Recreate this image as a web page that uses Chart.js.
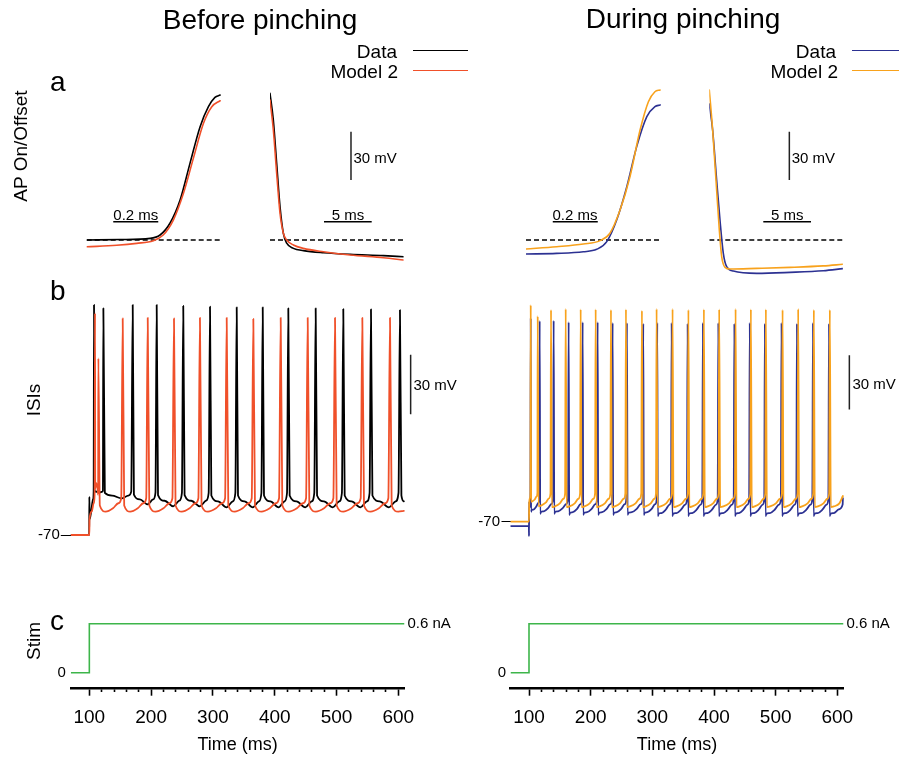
<!DOCTYPE html>
<html><head><meta charset="utf-8">
<script src="https://cdn.jsdelivr.net/npm/chart.js@4.4.1/dist/chart.umd.min.js"></script>
<style>
html,body{margin:0;padding:0;background:#fff;}
#wrap{position:relative;width:899px;height:759px;overflow:hidden;background:#fff;font-family:"Liberation Sans",Arial,Helvetica,sans-serif;color:#000;}
#wrap canvas{position:absolute;left:0;top:0;}
.t{position:absolute;line-height:1;white-space:nowrap;}
.ln{position:absolute;height:0;}
</style></head><body><div id="wrap"></div>
<script>
// ---------------- DATA ----------------
// Panel a: AP onset (ms, mV) and offset (ms, mV)
const aOnT_L_data  = [0, 0.15, 0.282, 0.326, 0.37, 0.415, 0.459, 0.504, 0.541, 0.57, 0.593];
const aOnV_L_data  = [-50, -49.7, -49, -46.9, -39.6, -25.2, -2.4, 20.4, 32.8, 38.6, 40];
const aOnT_L_model = [0, 0.133, 0.222, 0.296, 0.34, 0.385, 0.43, 0.474, 0.519, 0.556, 0.593];
const aOnV_L_model = [-54.2, -53.3, -52.1, -50.4, -46.9, -37.6, -21, 0.7, 22.5, 32.8, 36.5];
const aOffT_L      = [0, 0.35, 0.7, 1.05, 1.4, 1.75, 2.45, 3.5, 5.6, 8.4, 11.9, 14];
const aOffV_L_data = [41.1, 24.5, -2.4, -29.3, -45.8, -52, -55.2, -56.6, -57.9, -58.9, -59.7, -60.4];
const aOffV_L_model= [37, 18.3, -8.6, -33.4, -45.8, -50, -53.1, -55.2, -57.3, -59.3, -61, -62.4];

const aOnT_R_data  = [0, 0.136, 0.255, 0.314, 0.359, 0.403, 0.448, 0.492, 0.537, 0.573, 0.596];
const aOnV_R_data  = [-58.7, -58.3, -57.3, -55.8, -51, -37.6, -16.9, 8, 26.6, 32.8, 33.9];
const aOnT_R_model = [0, 0.136, 0.255, 0.329, 0.373, 0.418, 0.462, 0.507, 0.544, 0.573, 0.596];
const aOnV_R_model = [-55.6, -54.2, -52.5, -50.4, -45.8, -31.4, -10.7, 18.3, 35.9, 42.1, 43.2];
const aOffT_R_data = [0, 0.35, 0.77, 1.12, 1.47, 1.82, 2.52, 4.97, 8.46, 11.95, 14];
const aOffV_R_data = [34.5, 18.3, -12.7, -37.6, -58.3, -66.6, -69.3, -70.7, -70.1, -69.1, -67.8];
const aOffT_R_model= [0, 0.35, 0.7, 1.05, 1.3, 1.65, 2.17, 4.97, 8.46, 11.95, 14];
const aOffV_R_model= [43.2, 18.3, -12.7, -43.8, -60.4, -67, -68, -67.6, -67, -66.1, -65.1];
const aThreshold = -50;

// Panel b: spike trains (ms, mV)
const bPre_L_data  = [[70,-70],[99.8,-70],[100,-50.7],[100.6,-62],[103,-58],[106,-52],[107,-48]];
const bSpikeT_L_data = [107.6, 122.7, 170.2, 209, 252, 295.3, 338.5, 380.6, 422, 466.3, 511, 555.8, 602.7];
const bSpikeV_L_data = [46.2, 44.5, 46.2, 46.2, 45.7, 45.3, 45, 45, 44.5, 44.5, 44.1, 44, 43.6];
const bTrough_L_data = [-48.5, -51.5, -54.5, -55.5, -55.5, -56, -56, -56, -56, -56, -56, -56, -56];
const bPhase_L_data  = [0.05, 0.3, 0.62, 0.85, 0.95];
const bRel_L_data    = [0.3, 0.65, 1, 0.65, 0.15];
const bBase_L_data = -47.5, bEnd_L_data = -53;

const bPre_L_model = [[70,-70],[100,-70],[100.3,-62],[104,-58],[107,-54],[108.5,-50]];
const bSpikeT_L_model = [109.2, 114.6, 154, 194.5, 237, 279, 322.3, 365.4, 409.7, 453.4, 497.6, 541.8, 586.6];
const bSpikeV_L_model = [42, 19.2, 39.4, 39.7, 39.4, 39.7, 39.7, 39.1, 39.7, 39.7, 39.7, 39.7, 39.7];
const bTrough_L_model = [-43.7, -58.2, -58.2, -58.2, -58.2, -58.2, -58.2, -58.2, -58.2, -58.2, -58.2, -58.2, -58.2];
const bPhase_L_model  = [0.06, 0.3, 0.6, 0.82, 0.94];
const bRel_L_model    = [0.6, 1, 0.78, 0.45, 0.12];
const bBase_L_model = -50.5, bEnd_L_model = -57.8;

const bPre_R_data = [[70,-72.4],[99.8,-72.4],[100,-78],[100.2,-59],[101,-62],[102.3,-57]];
const bSpikeT_R_data = [102.8, 117.3, 140, 164.3, 187, 211.3, 235.6, 258.8, 285.3, 308, 331.3, 357.2, 382, 407, 433, 458, 482.5, 509.5, 534.5, 560.5, 586.5];
const bSpikeV_R_data = [42.4, 40.9, 41.1, 40.3, 40.3, 40.3, 39.8, 39.8, 39.4, 39.8, 39.8, 39.4, 39.8, 39.8, 39.4, 39.8, 39.4, 39.8, 39.4, 39.8, 39.4];
const bTrough_R_data = [-63.5, -64.5, -64.5, -65, -65, -65, -65, -65, -65, -65.5, -65.5, -65.5, -65.5, -65.5, -65.5, -65.5, -65.5, -65.5, -65.5, -65.5, -65.5];
const bPhase_R_data  = [0.04, 0.1, 0.3, 0.6, 0.85, 0.96];
const bRel_R_data    = [1.15, 1, 0.97, 0.75, 0.45, 0.1];
const bBase_R_data = -56.5, bEnd_R_data = -57;

const bPre_R_model = [[70,-70],[100,-70],[100.3,-60],[101.5,-57],[102.3,-54]];
const bSpikeT_R_model = [102.8, 114.1, 135.7, 159.5, 183.8, 208.1, 232.9, 257.2, 283.1, 306.9, 332.8, 358.5, 383.6, 408.4, 435, 459.8, 484.1, 511.2, 536.5, 561.9, 587.8];
const bSpikeV_R_model = [49.7, 43.6, 47.0, 47.5, 47.3, 47.3, 47.0, 47.3, 46.6, 47.5, 47.5, 47.0, 47.3, 47.3, 47.5, 47.3, 47.3, 47.0, 47.5, 47.0, 47.0];
const bTrough_R_model = [-59, -61.5, -62, -62, -62, -62, -62, -62, -62, -62, -62, -62, -62, -62, -62, -62, -62, -62, -62, -62, -62];
const bPhase_R_model  = [0.06, 0.25, 0.6, 0.85, 0.96];
const bRel_R_model    = [1, 0.95, 0.75, 0.45, 0.1];
const bBase_R_model = -53.5, bEnd_R_model = -55.8;

const bEndT = 609;
const bTickV = [-70];

// Panel c: stimulus (ms, nA)
const stimT = [70, 100, 100, 610];
const stimA = [0, 0, 0.6, 0.6];
const stimTicks = [0.6];
const timeTicks = [100,120,140,160,180,200,220,240,260,280,300,320,340,360,380,400,420,440,460,480,500,520,540,560,580,600];
const timeMajor = [100,200,300,400,500,600];

// scale bars
const barOn = 0.2, barOff = 5, barMV = 30;

// ---------------- STYLE ----------------
const FONT = '"Liberation Sans", Arial, Helvetica, sans-serif';
const C_BLACK = '#000000', C_RED = '#F0502A', C_BLUE = '#2C3192', C_ORANGE = '#F8A21C', C_GREEN = '#3DB54A', C_BAR = '#222222';
Chart.defaults.font.family = FONT;
Chart.defaults.color = '#000';
const W = 899, H = 759;
const wrap = document.getElementById('wrap');

function zip(T, V) { return T.map((t, i) => ({x: t, y: V[i]})); }
function trace(pts, color, w) {
  return {data: pts, borderColor: color, borderWidth: w, pointRadius: 0, fill: false,
    cubicInterpolationMode: 'monotone', borderJoinStyle: 'round', borderCapStyle: 'round'};
}
function seg(x0, y0, x1, y1, color, w, dash) {
  return {data: [{x: x0, y: y0}, {x: x1, y: y1}], borderColor: color, borderWidth: w,
    pointRadius: 0, tension: 0, fill: false, borderDash: dash || []};
}
function spikeTrain(pre, spikeT, spikeV, troughs, base, phases, rel, endT, endV) {
  const pts = pre.map(p => ({x: p[0], y: p[1]}));
  for (let i = 0; i < spikeT.length; i++) {
    const t = spikeT[i];
    pts.push({x: t, y: spikeV[i]});
    const last = i === spikeT.length - 1;
    const isi = last ? t - spikeT[i - 1] : spikeT[i + 1] - t;
    const tr = troughs[i];
    for (let k = 0; k < phases.length; k++) {
      const tx = t + phases[k] * isi;
      if (last && tx >= endT - 0.3) break;
      pts.push({x: tx, y: base + (tr - base) * rel[k]});
    }
  }
  pts.push({x: endT, y: endV});
  return pts;
}
function chartAt(area, xr, yr, datasets, extra, aw) {
  const cv = document.createElement('canvas');
  cv.width = W; cv.height = H; cv.style.width = W + 'px'; cv.style.height = H + 'px';
  wrap.appendChild(cv);
  aw = Object.assign({left: 0, right: 0, bottom: 0}, aw || {});
  const scales = {
    x: {type: 'linear', display: false, min: xr[0], max: xr[1]},
    y: {type: 'linear', display: false, min: yr[0], max: yr[1]}
  };
  for (const k in (extra || {})) scales[k] = Object.assign({type: 'linear'}, scales[k] || {}, extra[k]);
  return new Chart(cv, {
    type: 'line', data: {datasets},
    options: {
      responsive: false, maintainAspectRatio: false, animation: false, devicePixelRatio: 1, events: [],
      layout: {padding: {left: area.L - aw.left, top: area.T, right: W - area.R - aw.right, bottom: H - area.B - aw.bottom}},
      plugins: {legend: {display: false}, tooltip: {enabled: false}, title: {display: false}},
      scales
    }
  });
}
function txt(s, x, yb, size, align, extra) {
  const d = document.createElement('div');
  d.className = 't'; d.textContent = s;
  d.style.fontSize = size + 'px';
  d.style.left = x + 'px';
  d.style.top = (yb - 0.8465 * size) + 'px';
  if (align === 'right') d.style.transform = 'translateX(-100%)';
  if (align === 'center') d.style.transform = 'translateX(-50%)';
  if (extra) Object.assign(d.style, extra);
  wrap.appendChild(d);
  return d;
}
function vtxt(s, cx, cy, size) {
  const d = document.createElement('div');
  d.className = 't'; d.textContent = s;
  d.style.fontSize = size + 'px';
  d.style.left = cx + 'px'; d.style.top = cy + 'px';
  d.style.transform = 'translate(-50%,-50%) rotate(-90deg)';
  wrap.appendChild(d);
}
function hline(x0, x1, y, color, w) {
  const d = document.createElement('div');
  d.className = 'ln';
  d.style.left = x0 + 'px'; d.style.width = (x1 - x0) + 'px';
  d.style.top = (y - w / 2) + 'px'; d.style.borderTop = w + 'px solid ' + color;
  wrap.appendChild(d);
}

// ---------------- PANEL a ----------------
const aY = [-80, 50];
const aArea = {T: 79, B: 288.3};
const barY = -38.6;
function aOnset(L, dataPts, modelPts, dataCol, modelCol, barX0) {
  chartAt({L: L, R: L + 135, T: aArea.T, B: aArea.B}, [0, 0.6], aY, [
    trace(modelPts, modelCol, 1.6),
    trace(dataPts, dataCol, 1.6),
    seg(barX0, barY, barX0 + barOn, barY, C_BLACK, 1.5),
    seg(0, aThreshold, 0.593, aThreshold, C_BLACK, 1.5, [5, 3])
  ]);
}
function aOffset(L, dataPts, modelPts, dataCol, modelCol, barX0, vbarX) {
  chartAt({L: L, R: L + 14 * 9.54, T: aArea.T, B: aArea.B}, [0, 14], aY, [
    trace(modelPts, modelCol, 1.6),
    trace(dataPts, dataCol, 1.6),
    seg(barX0, barY, barX0 + barOff, barY, C_BLACK, 1.5),
    seg(vbarX, -12.7, vbarX, -12.7 + barMV, C_BAR, 1.5),
    seg(0, aThreshold, 14, aThreshold, C_BLACK, 1.5, [5, 3])
  ]);
}
aOnset(86.7, zip(aOnT_L_data, aOnV_L_data), zip(aOnT_L_model, aOnV_L_model), C_BLACK, C_RED, 0.118);
aOffset(270, zip(aOffT_L, aOffV_L_data), zip(aOffT_L, aOffV_L_model), C_BLACK, C_RED, 5.66, 8.49);
aOnset(526, zip(aOnT_R_data, aOnV_R_data), zip(aOnT_R_model, aOnV_R_model), C_BLUE, C_ORANGE, 0.119);
aOffset(709.3, zip(aOffT_R_data, aOffV_R_data), zip(aOffT_R_model, aOffV_R_model), C_BLUE, C_ORANGE, 5.66, 8.39);

// ---------------- PANEL b ----------------
function bYAxis(tl, pad) {
  return {y: {display: true, position: 'left',
    afterBuildTicks: s => { s.ticks = bTickV.map(v => ({value: v})); },
    afterFit: s => { s.width = 40; },
    ticks: {font: {size: 15}, color: '#000', padding: pad, callback: v => String(v)},
    grid: {display: true, drawOnChartArea: false, drawTicks: true, tickLength: tl, tickColor: '#000', tickWidth: 1},
    border: {display: false}}};
}
const bL = spikeTrain(bPre_L_data, bSpikeT_L_data, bSpikeV_L_data, bTrough_L_data, bBase_L_data, bPhase_L_data, bRel_L_data, bEndT, bEnd_L_data);
const bLm = spikeTrain(bPre_L_model, bSpikeT_L_model, bSpikeV_L_model, bTrough_L_model, bBase_L_model, bPhase_L_model, bRel_L_model, bEndT, bEnd_L_model);
chartAt({L: 70.8, R: 423, T: 287.5, B: 564.7}, [70, 640], [-85, 55], [
  trace(bLm, C_RED, 1.8),
  trace(bL, C_BLACK, 1.8),
  seg(620, -9, 620, -9 + barMV, C_BAR, 1.5)
], bYAxis(10, 1), {left: 40});

const bR = spikeTrain(bPre_R_data, bSpikeT_R_data, bSpikeV_R_data, bTrough_R_data, bBase_R_data, bPhase_R_data, bRel_R_data, bEndT, bEnd_R_data);
const bRm = spikeTrain(bPre_R_model, bSpikeT_R_model, bSpikeV_R_model, bTrough_R_model, bBase_R_model, bPhase_R_model, bRel_R_model, bEndT, bEnd_R_model);
chartAt({L: 510.5, R: 862, T: 295.45, B: 548.85}, [70, 640], [-85, 55], [
  trace(bRm, C_ORANGE, 1.8),
  trace(bR, C_BLUE, 1.8),
  seg(619.5, -8, 619.5, -8 + barMV, C_BAR, 1.5)
], bYAxis(9, 1.5), {left: 40});

// ---------------- PANEL c ----------------
function cScales(leftPad, rightW) {
  return {
    x: {display: true, position: 'bottom',
      afterBuildTicks: s => { s.ticks = timeTicks.map(v => ({value: v})); },
      afterFit: s => { s.height = 70; },
      ticks: {autoSkip: false, maxRotation: 0, minRotation: 0, font: {size: 19}, color: '#000', padding: 10.5,
        callback: v => (timeMajor.includes(v) ? String(v) : '')},
      grid: {display: true, drawOnChartArea: false, drawTicks: true, tickLength: 7, tickWidth: 1.6, tickColor: '#000',
        tickBorderDash: c => (c.tick && timeMajor.includes(c.tick.value)) ? [] : [2.5, 30]},
      border: {display: true, color: '#000', width: 2.5},
      title: {display: true, text: 'Time (ms)', font: {size: 18}, color: '#000', padding: {top: 0, bottom: 3}}},
    y: {display: true, position: 'left',
      afterBuildTicks: s => { s.ticks = [{value: 0}]; },
      afterFit: s => { s.width = 30; },
      ticks: {font: {size: 15}, color: '#000', padding: leftPad, callback: v => String(v)},
      grid: {display: false, drawTicks: false}, border: {display: false}},
    y2: {display: true, position: 'right', min: -0.1959, max: 0.8,
      afterBuildTicks: s => { s.ticks = stimTicks.map(v => ({value: v})); },
      afterFit: s => { s.width = rightW; },
      ticks: {font: {size: 15}, color: '#000', padding: 3, callback: v => v + ' nA'},
      grid: {display: false, drawTicks: false}, border: {display: false}}
  };
}
chartAt({L: 70.8, R: 404.5, T: 607.36, B: 688.7}, [70, 610], [-0.1959, 0.8], [
  Object.assign(seg(0, 0, 0, 0, C_GREEN, 1.6), {data: zip(stimT, stimA)})
], cScales(5, 70), {left: 30, right: 70, bottom: 70});
chartAt({L: 510.5, R: 843.5, T: 607.36, B: 688.7}, [70, 610], [-0.1959, 0.8], [
  Object.assign(seg(0, 0, 0, 0, C_GREEN, 1.6), {data: zip(stimT, stimA)})
], cScales(4.5, 50), {left: 30, right: 50, bottom: 70});

// ---------------- TEXT ----------------
txt('Before pinching', 260, 30, 28, 'center');
txt('During pinching', 683, 29, 28, 'center');
txt('Data', 397, 58.3, 19, 'right');
txt('Model 2', 398, 78.3, 19, 'right');
hline(413, 468, 51, C_BLACK, 1.5);
hline(413, 468, 70.7, C_RED, 1.5);
txt('Data', 836, 58.3, 19, 'right');
txt('Model 2', 838, 78.3, 19, 'right');
hline(852, 899, 51, C_BLUE, 1.5);
hline(852, 899, 70.7, C_ORANGE, 1.5);

txt('a', 50, 92, 28, 'left');
txt('b', 50, 301, 28, 'left');
txt('c', 50, 631, 28, 'left');
vtxt('AP On/Offset', 20, 146, 19);
vtxt('ISIs', 33, 400, 19);
vtxt('Stim', 33, 641, 19);

txt('0.2 ms', 135.8, 219.3, 15, 'center');
txt('5 ms', 348, 219.3, 15, 'center');
txt('30 mV', 353.5, 162.7, 15, 'left');
txt('0.2 ms', 575, 219.3, 15, 'center');
txt('5 ms', 787.2, 219.3, 15, 'center');
txt('30 mV', 791.7, 162.7, 15, 'left');
txt('30 mV', 413.5, 390, 15, 'left');
txt('30 mV', 852.5, 388.3, 15, 'left');
</script></body></html>
